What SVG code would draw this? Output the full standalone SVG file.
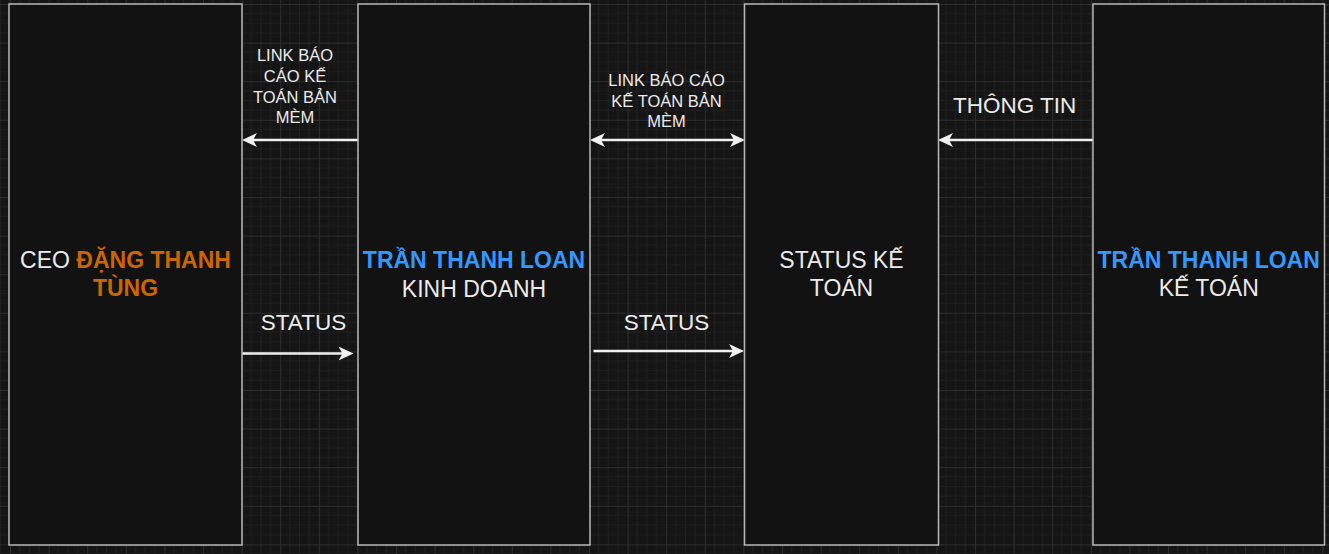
<svg xmlns="http://www.w3.org/2000/svg" width="1329" height="554" viewBox="0 0 1329 554">
  <defs>
    <pattern id="grid" patternUnits="userSpaceOnUse" x="10" y="4" width="38.6" height="38.6">
      <rect width="38.6" height="38.6" fill="#151515"/>
      <path d="M9.65,0V38.6M19.3,0V38.6M28.95,0V38.6M0,9.65H38.6M0,19.3H38.6M0,28.95H38.6" stroke="#1f1f1f" stroke-width="1" fill="none"/>
      <path d="M0.5,0V38.6M0,0.5H38.6" stroke="#2d2d2d" stroke-width="1" fill="none"/>
    </pattern>
    <marker id="arr" viewBox="0 -8 16 16" refX="5" refY="0" markerWidth="16" markerHeight="16" markerUnits="userSpaceOnUse" orient="auto-start-reverse">
      <path d="M0,-7 L15,0 L0,7 L4,0 Z" fill="#f0f0f0"/>
    </marker>
  </defs>
  <style>
    .box { fill: #121212; stroke: #b8b8b8; stroke-width: 1.5; }
    .t { font-family: "Liberation Sans", Arial, sans-serif; fill: #ebebeb; text-anchor: middle; }
    .big { font-size: 22.5px; }
    .node { font-size: 23px; }
    .small { font-size: 16.5px; }
    .b { font-weight: bold; }
    .orange { fill: #cc6600; }
    .blue { fill: #3399ff; }
    .edge { stroke: #f0f0f0; stroke-width: 2.5; fill: none; }
  </style>
  <rect x="0" y="0" width="1329" height="554" fill="url(#grid)"/>

  <g id="connectors">
    <line class="edge" x1="358" y1="140" x2="252" y2="140" marker-end="url(#arr)"/>
    <line class="edge" x1="600" y1="140" x2="735" y2="140" marker-start="url(#arr)" marker-end="url(#arr)"/>
    <line class="edge" x1="1093" y1="140" x2="948" y2="140" marker-end="url(#arr)"/>
    <line class="edge" x1="242" y1="353.5" x2="343.5" y2="353.5" marker-end="url(#arr)"/>
    <line class="edge" x1="593.5" y1="351" x2="734" y2="351" marker-end="url(#arr)"/>
    <g id="edge-labels">
      <text class="t small" x="295" y="61">LINK BÁO</text>
      <text class="t small" x="295" y="81.7">CÁO KẾ</text>
      <text class="t small" x="295" y="102.5">TOÁN BẢN</text>
      <text class="t small" x="295" y="123.3">MÈM</text>
      <text class="t small" x="666.5" y="86">LINK BÁO CÁO</text>
      <text class="t small" x="666.5" y="106.5">KẾ TOÁN BẢN</text>
      <text class="t small" x="666.5" y="127">MÈM</text>
      <text class="t big" x="1014.7" y="113.3">THÔNG TIN</text>
      <text class="t big" x="303.5" y="330">STATUS</text>
      <text class="t big" x="666.5" y="329.5">STATUS</text>
    </g>
  </g>

  <g id="node-ceo">
    <rect class="box" x="9" y="4" width="233" height="541"/>
    <text class="t node" x="125.5" y="268.3">CEO <tspan class="b orange">ĐẶNG THANH</tspan></text>
    <text class="t node b orange" x="125.5" y="295.5">TÙNG</text>
  </g>

  <g id="node-kinhdoanh">
    <rect class="box" x="358" y="4" width="232" height="541"/>
    <text class="t node b blue" x="474" y="268.3">TRẦN THANH LOAN</text>
    <text class="t node" x="474" y="296.5">KINH DOANH</text>
  </g>

  <g id="node-status">
    <rect class="box" x="744.5" y="4" width="194" height="541"/>
    <text class="t node" x="841.5" y="268.3">STATUS KẾ</text>
    <text class="t node" x="841.5" y="295.5">TOÁN</text>
  </g>

  <g id="node-ketoan">
    <rect class="box" x="1093" y="4" width="231.5" height="541"/>
    <text class="t node b blue" x="1208.7" y="268.3">TRẦN THANH LOAN</text>
    <text class="t node" x="1208.7" y="296">KẾ TOÁN</text>
  </g>
</svg>
